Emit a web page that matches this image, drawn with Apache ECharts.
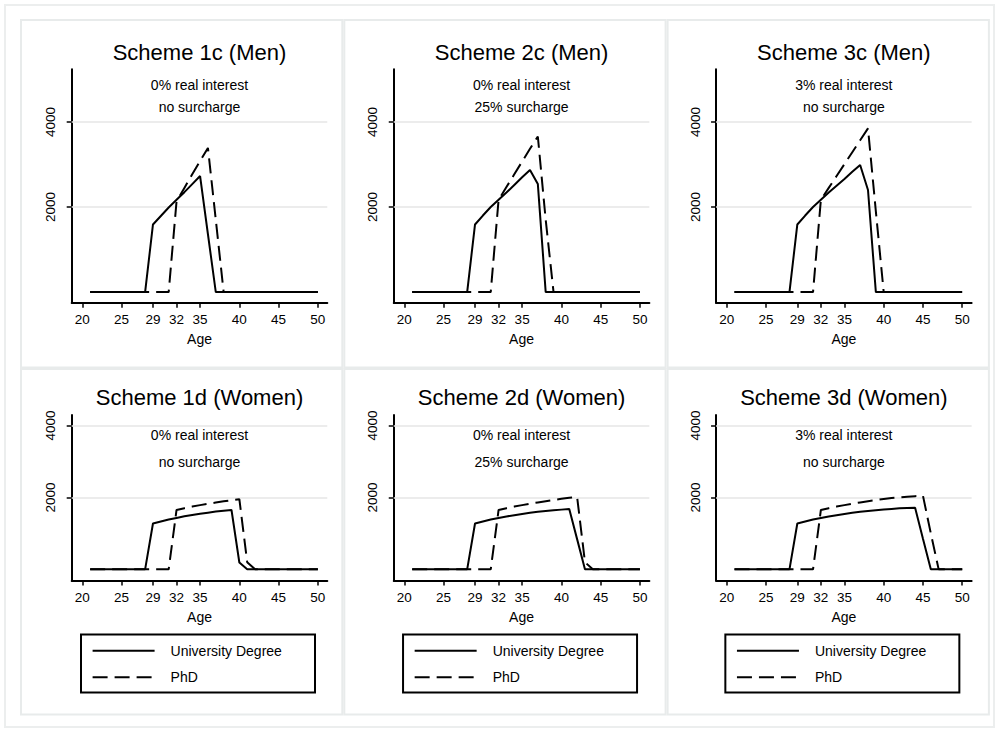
<!DOCTYPE html>
<html>
<head>
<meta charset="utf-8">
<title>Schemes by age</title>
<script src="https://cdn.jsdelivr.net/npm/echarts@6/dist/echarts.min.js"></script>
<style>
    html, body { margin: 0; padding: 0; background: #fff; }
    #main { width: 995px; height: 730px; }
</style>
</head>
<body>
<div id="main"></div>
<script>
// 年龄
var ages = [21, 22, 23, 24, 25, 26, 27, 28, 29, 30, 31, 32, 33, 34, 35, 36, 37, 38, 39, 40, 41, 42, 43, 44, 45, 46, 47, 48, 49, 50];
var xTicks = [20, 25, 29, 32, 35, 40, 45, 50];
var yTicks = [2000, 4000];

// Men
var uni1c = [0, 0, 0, 0, 0, 0, 0, 0, 1590, 1790, 1990, 2170, 2350, 2540, 2730, 1360, 0, 0, 0, 0, 0, 0, 0, 0, 0, 0, 0, 0, 0, 0];
var phd1c = [0, 0, 0, 0, 0, 0, 0, 0, 0, 0, 0, 2130, 2450, 2770, 3080, 3390, 1700, 0, 0, 0, 0, 0, 0, 0, 0, 0, 0, 0, 0, 0];
var uni2c = [0, 0, 0, 0, 0, 0, 0, 0, 1590, 1800, 2000, 2170, 2340, 2520, 2700, 2870, 2540, 0, 0, 0, 0, 0, 0, 0, 0, 0, 0, 0, 0, 0];
var phd2c = [0, 0, 0, 0, 0, 0, 0, 0, 0, 0, 0, 2170, 2470, 2770, 3070, 3370, 3660, 1700, 0, 0, 0, 0, 0, 0, 0, 0, 0, 0, 0, 0];
var uni3c = [0, 0, 0, 0, 0, 0, 0, 0, 1590, 1800, 2000, 2170, 2340, 2500, 2660, 2830, 2990, 2400, 0, 0, 0, 0, 0, 0, 0, 0, 0, 0, 0, 0];
var phd3c = [0, 0, 0, 0, 0, 0, 0, 0, 0, 0, 0, 2170, 2450, 2730, 3010, 3290, 3570, 3850, 1900, 0, 0, 0, 0, 0, 0, 0, 0, 0, 0, 0];
// Women
var uni1d = [0, 0, 0, 0, 0, 0, 0, 0, 1275, 1330, 1385, 1430, 1475, 1510, 1545, 1575, 1605, 1630, 1650, 190, 0, 0, 0, 0, 0, 0, 0, 0, 0, 0];
var phd1d = [0, 0, 0, 0, 0, 0, 0, 0, 0, 0, 0, 1650, 1700, 1745, 1785, 1820, 1855, 1890, 1920, 1950, 200, 0, 0, 0, 0, 0, 0, 0, 0, 0];
var uni2d = [0, 0, 0, 0, 0, 0, 0, 0, 1275, 1330, 1385, 1430, 1470, 1505, 1540, 1570, 1600, 1625, 1645, 1660, 1675, 840, 0, 0, 0, 0, 0, 0, 0, 0];
var phd2d = [0, 0, 0, 0, 0, 0, 0, 0, 0, 0, 0, 1650, 1700, 1745, 1785, 1825, 1860, 1895, 1930, 1960, 1990, 2015, 200, 0, 0, 0, 0, 0, 0, 0];
var uni3d = [0, 0, 0, 0, 0, 0, 0, 0, 1275, 1330, 1385, 1430, 1470, 1505, 1540, 1570, 1600, 1625, 1645, 1665, 1680, 1695, 1705, 1710, 850, 0, 0, 0, 0, 0];
var phd3d = [0, 0, 0, 0, 0, 0, 0, 0, 0, 0, 0, 1650, 1700, 1745, 1785, 1825, 1860, 1895, 1925, 1955, 1980, 2000, 2020, 2035, 2045, 1000, 0, 0, 0, 0];

var titles = ['Scheme 1c (Men)', 'Scheme 2c (Men)', 'Scheme 3c (Men)', 'Scheme 1d (Women)', 'Scheme 2d (Women)', 'Scheme 3d (Women)'];
var notes1 = ['0% real interest', '0% real interest', '3% real interest', '0% real interest', '0% real interest', '3% real interest'];
var notes2 = ['no surcharge', '25% surcharge', 'no surcharge', 'no surcharge', '25% surcharge', 'no surcharge'];
var uniData = [uni1c, uni2c, uni3c, uni1d, uni2d, uni3d];
var phdData = [phd1c, phd2c, phd3c, phd1d, phd2d, phd3d];
var legendNames = ['University Degree', 'PhD'];

function pairs(arr) {
    var out = [];
    for (var i = 0; i < ages.length; i++) {
        out.push([ages[i], arr[i]]);
    }
    return out;
}

var FONT = "'Liberation Sans', Arial, Helvetica, sans-serif";
var colOff = [0, 322.05, 644.35];

function buildOption() {
    var grids = [], xAxes = [], yAxes = [], series = [], titleList = [], graphics = [], legends = [];

    // 外框
    graphics.push({
        type: 'rect', z: -10, silent: true,
        shape: { x: 5, y: 5, width: 989, height: 722 },
        style: { fill: '#fff', stroke: '#eceeee', lineWidth: 2 }
    });

    for (var p = 0; p < 6; p++) {
        var row = p < 3 ? 0 : 1;
        var off = colOff[p % 3];
        var gridTop = row === 0 ? 69.3 : 415;
        var gridHeight = row === 0 ? 233.4 : 165.5;
        var midX = 199.5 + off;

        // 面板边框
        graphics.push({
            type: 'rect', z: -5, silent: true,
            shape: { x: 21 + (p % 3) * 323.3, y: row === 0 ? 20 : 369, width: 321.3, height: row === 0 ? 347.5 : 345.5 },
            style: { fill: '#fff', stroke: '#e8ebeb', lineWidth: 2 }
        });

        grids.push({ left: 71.7 + off, top: gridTop, width: 255.6, height: gridHeight });

        xAxes.push({
            type: 'value', gridIndex: p, min: 18.65, max: 51.2,
            name: 'Age', nameLocation: 'middle', nameGap: 29,
            nameTextStyle: { color: '#000', fontSize: 14 },
            axisLine: { show: true, onZero: false, lineStyle: { color: '#000', width: 2 } },
            axisTick: { show: true, length: 5, customValues: xTicks.slice(), lineStyle: { color: '#000', width: 1.5 } },
            axisLabel: { customValues: xTicks.slice(), margin: 10, color: '#000', fontSize: 13.5 },
            splitLine: { show: false }
        });

        yAxes.push({
            type: 'value', gridIndex: p,
            min: row === 0 ? -250 : -310,
            max: row === 0 ? 5240 : 4290,
            axisLine: { show: true, onZero: false, lineStyle: { color: '#000', width: 2 } },
            axisTick: { show: true, length: 5, customValues: yTicks.slice(), lineStyle: { color: '#000', width: 1.5 } },
            axisLabel: {
                customValues: yTicks.slice(), rotate: 90, margin: 14, color: '#000', fontSize: 13.5,
                formatter: function (v) { return String(v); }
            },
            splitLine: { show: false }
        });

        series.push({
            name: legendNames[0], type: 'line', xAxisIndex: p, yAxisIndex: p, z: 3,
            symbol: 'none', showSymbol: false,
            lineStyle: { color: '#000', width: 2, type: 'solid' },
            data: pairs(uniData[p]),
            // 网格线
            markLine: {
                z: 1, silent: true, symbol: ['none', 'none'],
                label: { show: false },
                lineStyle: { color: '#e6e6e6', width: 1.5, type: 'solid' },
                data: [{ yAxis: yTicks[0] }, { yAxis: yTicks[1] }]
            }
        });
        series.push({
            name: legendNames[1], type: 'line', xAxisIndex: p, yAxisIndex: p, z: 3,
            symbol: 'none', showSymbol: false,
            lineStyle: { color: '#000', width: 2, type: [15, 7] },
            data: pairs(phdData[p])
        });

        titleList.push({
            text: titles[p], left: midX, top: row === 0 ? 41 : 386.5, textAlign: 'center', padding: 0,
            textStyle: { color: '#000', fontSize: 22, fontWeight: 'normal', lineHeight: 22 }
        });

        // 注释文字
        graphics.push({
            type: 'text', z: 10, silent: true, x: midX, y: row === 0 ? 85 : 435,
            style: { text: notes1[p], align: 'center', verticalAlign: 'middle', fill: '#000', fontSize: 14, fontFamily: FONT }
        });
        graphics.push({
            type: 'text', z: 10, silent: true, x: midX, y: row === 0 ? 107.3 : 462.3,
            style: { text: notes2[p], align: 'center', verticalAlign: 'middle', fill: '#000', fontSize: 14, fontFamily: FONT }
        });

        // 图例
        if (row === 1) {
            graphics.push({
                type: 'rect', z: 10, silent: true,
                shape: { x: 81 + off, y: 634.5, width: 234, height: 58 },
                style: { fill: 'none', stroke: '#000', lineWidth: 2 }
            });
            legends.push({
                orient: 'vertical', left: 91.6 + off, top: 643.7, padding: 0,
                itemWidth: 62, itemHeight: 14, itemGap: 12.6, selectedMode: false,
                itemStyle: { opacity: 0 },
                data: legendNames.slice(),
                textStyle: { color: '#000', fontSize: 14, padding: [0, 0, 0, 11] }
            });
        }
    }

    return {
        animation: false,
        backgroundColor: '#fff',
        textStyle: { fontFamily: FONT },
        title: titleList,
        legend: legends,
        grid: grids,
        xAxis: xAxes,
        yAxis: yAxes,
        graphic: graphics,
        series: series
    };
}

var myChart = echarts.init(document.getElementById('main'), null, { renderer: 'svg' });
myChart.setOption(buildOption());
</script>
</body>
</html>
